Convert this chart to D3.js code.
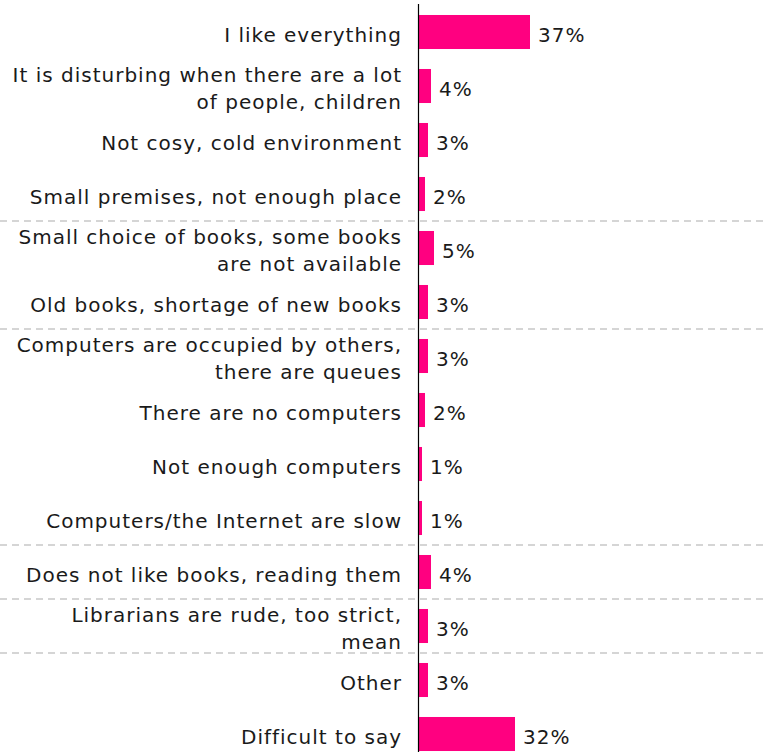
<!DOCTYPE html>
<html>
<head>
<meta charset="utf-8">
<script src="https://cdn.jsdelivr.net/npm/d3@7"></script>
<style>
  html, body { margin: 0; padding: 0; background: #fff; }
  svg { display: block; }
  text { font-family: "DejaVu Sans", Verdana, sans-serif; fill: #1a1a1a; letter-spacing: 1px; }
</style>
</head>
<body>
<svg id="chart" width="764" height="752"></svg>
<script>
// Reasons given about the library (one row per answer)
const categories = [
  ["I like everything"],
  ["It is disturbing when there are a lot", "of people, children"],
  ["Not cosy, cold environment"],
  ["Small premises, not enough place"],
  ["Small choice of books, some books", "are not available"],
  ["Old books, shortage of new books"],
  ["Computers are occupied by others,", "there are queues"],
  ["There are no computers"],
  ["Not enough computers"],
  ["Computers/the Internet are slow"],
  ["Does not like books, reading them"],
  ["Librarians are rude, too strict,", "mean"],
  ["Other"],
  ["Difficult to say"]
];
// Share of respondents, %
const values = [37, 4, 3, 2, 5, 3, 3, 2, 1, 1, 4, 3, 3, 32];
// Topic group of each row; a dashed rule separates groups
const groups = [1, 1, 1, 1, 2, 2, 3, 3, 3, 3, 4, 5, 6, 6];

const W = 764, H = 752;
const axisX = 418.5;
const fontSize = 20;
const lineGap = 26.6;

const svg = d3.select("#chart");
const ids = categories.map((_, i) => i);

const y = d3.scaleBand()
  .domain(ids)
  .range([5, 761])
  .paddingInner(0.37)
  .paddingOuter(0.185);

const x = d3.scaleLinear()
  .domain([0, 100])
  .range([axisX + 0.5, axisX + 0.5 + 300]);

const center = i => y(i) + y.bandwidth() / 2;

// group separators
const seps = ids.filter(i => i > 0 && groups[i] !== groups[i - 1]);
svg.append("g")
  .selectAll("line")
  .data(seps)
  .join("line")
  .attr("x1", 0)
  .attr("x2", W)
  .attr("y1", i => y(i) - (y.step() - y.bandwidth()) / 2)
  .attr("y2", i => y(i) - (y.step() - y.bandwidth()) / 2)
  .attr("stroke", "#c8c8c8")
  .attr("stroke-width", 1.5)
  .attr("stroke-dasharray", "7,5");

// bars
svg.append("g")
  .selectAll("rect")
  .data(ids)
  .join("rect")
  .attr("x", x(0))
  .attr("y", i => y(i))
  .attr("width", i => x(values[i]) - x(0))
  .attr("height", y.bandwidth())
  .attr("fill", "#ff0080");

// category labels
const labels = svg.append("g")
  .selectAll("text")
  .data(ids)
  .join("text")
  .attr("text-anchor", "end")
  .attr("font-size", fontSize);
labels.each(function (i) {
  const lines = categories[i];
  d3.select(this).selectAll("tspan")
    .data(lines)
    .join("tspan")
    .attr("x", 402)
    .attr("y", (_, k) => center(i) + 9.5 + (k - (lines.length - 1) / 2) * lineGap)
    .text(d => d);
});

// value labels
svg.append("g")
  .selectAll("text")
  .data(ids)
  .join("text")
  .attr("x", i => x(values[i]) + 8)
  .attr("y", i => center(i) + 9.5)
  .attr("font-size", fontSize)
  .text(i => d3.format(".0f")(values[i]) + "%");

// vertical axis line
svg.append("line")
  .attr("x1", axisX)
  .attr("x2", axisX)
  .attr("y1", 4)
  .attr("y2", H)
  .attr("stroke", "#000")
  .attr("stroke-width", 1.2);
</script>
</body>
</html>
